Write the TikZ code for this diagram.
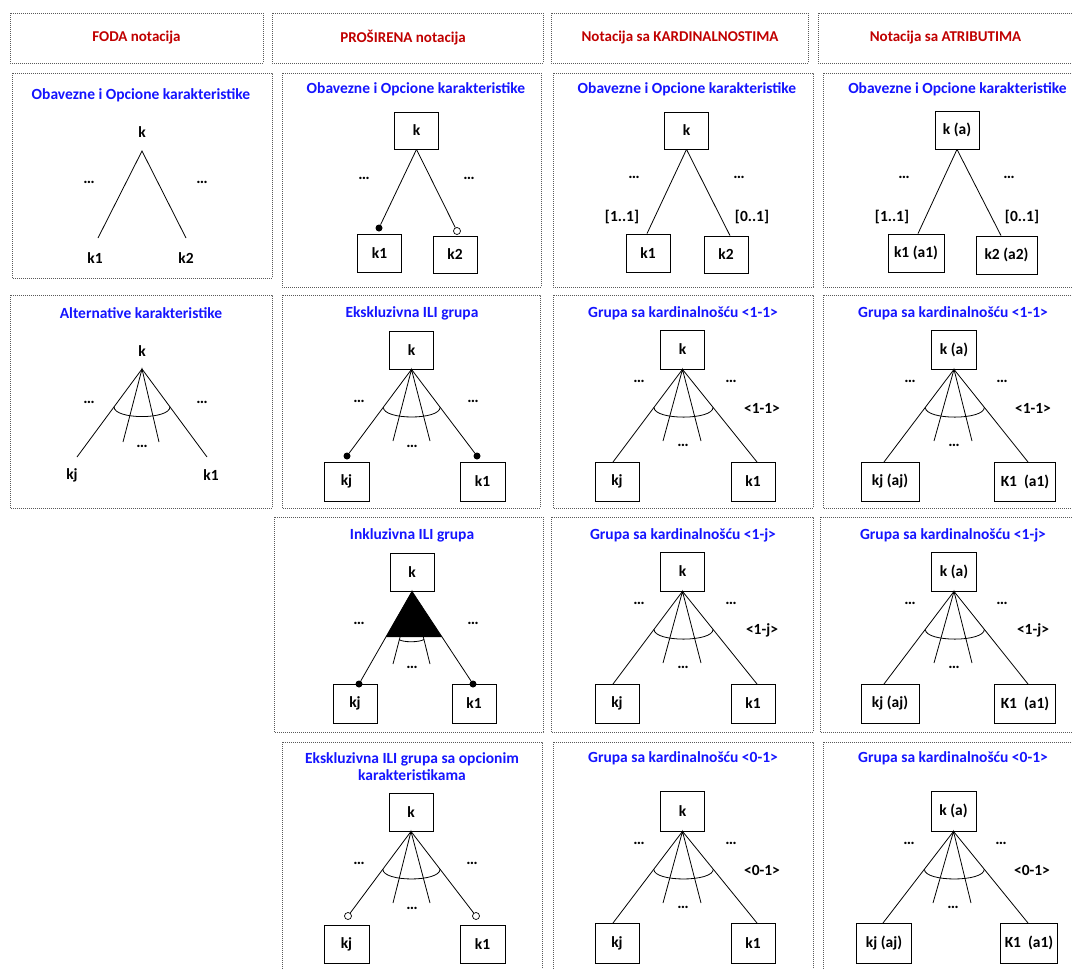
\documentclass[tikz,border=0pt]{standalone}
\usepackage{fontspec}
\setmainfont{Carlito}
\usetikzlibrary{calc}
\definecolor{hdrred}{RGB}{192,0,0}
\definecolor{ttlblue}{RGB}{20,20,255}
\definecolor{dotgray}{RGB}{90,90,90}
\newcommand{\fanlines}[5]{\draw[edge] (#2) -- (#1) -- (#3); \draw[edge] (#4) -- (#1) -- (#5);}
\newcommand{\fanarc}[4]{\draw[edge] ($(#1)!#4!(#2)$) .. controls ($(#1)!#4!(#2)+(0,13)$) and ($(#1)!#4!(#3)+(0,13)$) .. ($(#1)!#4!(#3)$);}
\begin{document}
\begin{tikzpicture}[x=1pt,y=-1pt,
 cell/.style={draw=dotgray, line width=0.6pt, dash pattern=on 0.6pt off 1.4pt},
 hdr/.style={text=hdrred, font=\bfseries\fontsize{15}{18}\selectfont, inner sep=0},
 ttl/.style={text=ttlblue, font=\bfseries\fontsize{15.5}{17}\selectfont, inner sep=0, align=center},
 lbl/.style={font=\bfseries\fontsize{15.5}{17}\selectfont, inner sep=0},
 fbox/.style={draw, line width=0.8pt, minimum height=38pt, minimum width=44pt, inner sep=0, font=\bfseries\fontsize{15.5}{17}\selectfont},
 edge/.style={line width=0.8pt},
 fdot/.style={circle, fill=black, inner sep=0, minimum size=7pt},
 odot/.style={circle, draw=black, line width=0.7pt, fill=white, inner sep=0, minimum size=7pt},
 dts/.style={font=\bfseries\fontsize{16}{17}\selectfont, inner sep=0}
]
\useasboundingbox (0,0) rectangle (1072,969);
% ---------- cells ----------
\draw[cell] (10,13) rectangle (263,63);
\draw[cell] (272,13) rectangle (543,63);
\draw[cell] (551,13) rectangle (808,63);
\draw[cell] (818,13) rectangle (1080,63);
\draw[cell] (12,73) rectangle (272,278);
\draw[cell] (282,73) rectangle (541,287);
\draw[cell] (553,73) rectangle (813,287);
\draw[cell] (823,73) rectangle (1080,287);
\draw[cell] (10,295) rectangle (272,508);
\draw[cell] (282,295) rectangle (540,508);
\draw[cell] (553,295) rectangle (813,508);
\draw[cell] (823,295) rectangle (1080,508);
\draw[cell] (274,517) rectangle (543,732);
\draw[cell] (551,517) rectangle (813,732);
\draw[cell] (820,517) rectangle (1080,732);
\draw[cell] (282,742) rectangle (542,990);
\draw[cell] (553,742) rectangle (813,990);
\draw[cell] (823,742) rectangle (1080,990);
% ---------- headers ----------
\node[hdr] (h1) at (136.5,38) {FODA notacija};
\node[hdr] (h2) at (403,38) {PROŠIRENA notacija};
\node[hdr] (h3) at (680,38) {Notacija sa KARDINALNOSTIMA};
\node[hdr] (h4) at (945.5,38) {Notacija sa ATRIBUTIMA};
% ---------- row 2 col 1 ----------
\node[ttl] (a-t) at (141,95) {Obavezne i Opcione karakteristike};
\node[lbl] (a-k) at (142,132) {k};
\coordinate (a-ap) at (142,151);
\coordinate (a-e1) at (98,238);
\coordinate (a-e2) at (186,238);
\draw[edge] (a-e1) -- (a-ap) -- (a-e2);
\node[dts] (a-d1) at (89,182) {…};
\node[dts] (a-d2) at (202,182) {…};
\node[lbl] (a-k1) at (95,258) {k1};
\node[lbl] (a-k2) at (186,258) {k2};
% ---------- row 2 col 2 ----------
\node[ttl] (b-t) at (416,89) {Obavezne i Opcione karakteristike};
\node[fbox, minimum height=37pt] (b-k) at (416.5,130.5) {k};
\node[fbox] (b-k1) at (379.5,253) {k1};
\node[fbox, minimum height=37pt] (b-k2) at (455,254.5) {k2};
\node[fdot] (b-c1) at (379,228) {};
\node[odot] (b-c2) at (457,231) {};
\draw[edge] (b-k.south) -- (b-c1);
\draw[edge] (b-k.south) -- (b-c2);
\node[dts] (b-d1) at (364,178) {…};
\node[dts] (b-d2) at (469,178) {…};
% ---------- row 2 col 3 ----------
\node[ttl] (c-t) at (687,89) {Obavezne i Opcione karakteristike};
\node[fbox, minimum height=37pt] (c-k) at (686.5,130.5) {k};
\node[fbox] (c-k1) at (648,253) {k1};
\node[fbox, minimum height=37pt] (c-k2) at (726,254.5) {k2};
\draw[edge] (c-k.south) -- ($(c-k1.north)+(-1,0)$);
\draw[edge] (c-k.south) -- ($(c-k2.north)+(4,0)$);
\node[lbl] (c-m1) at (622,217) {[1..1]};
\node[lbl] (c-m2) at (752,217) {[0..1]};
\node[dts] (c-d1) at (634,177) {…};
\node[dts] (c-d2) at (739,177) {…};
% ---------- row 2 col 4 ----------
\node[ttl] (g2-t) at (957.5,89) {Obavezne i Opcione karakteristike};
\node[fbox] (g2-k) at (957,130) {k (a)};
\node[fbox, minimum width=56pt] (g2-k1) at (916,253) {k1 (a1)};
\node[fbox, minimum width=61pt] (g2-k2) at (1006.5,255) {k2 (a2)};
\draw[edge] (g2-k.south) -- ($(g2-k1.north)+(2,0)$);
\draw[edge] (g2-k.south) -- ($(g2-k2.north)+(-5.5,0)$);
\node[lbl] (g2-m1) at (892,217) {[1..1]};
\node[lbl] (g2-m2) at (1022,217) {[0..1]};
\node[dts] (g2-d1) at (904,177) {…};
\node[dts] (g2-d2) at (1009,177) {…};
% ---------- row 3 col 1 ----------
\node[ttl] (d-t) at (141,313) {Alternative karakteristike};
\node[lbl] (d-k) at (142,351) {k};
\coordinate (d-ap) at (142,369);
\coordinate (d-l) at (77,457);
\coordinate (d-r) at (207,457);
\coordinate (d-il) at (123,442);
\coordinate (d-ir) at (159,442);
\fanlines{d-ap}{d-l}{d-r}{d-il}{d-ir}
\fanarc{d-ap}{d-l}{d-r}{0.43}
\node[dts] (d-d1) at (89,402) {…};
\node[dts] (d-d2) at (202,402) {…};
\node[dts] (d-d3) at (142,446) {…};
\node[lbl] (d-kj) at (72,475) {kj};
\node[lbl] (d-k1) at (211,475) {k1};
% ---------- row 3 col 2 ----------
\node[ttl] (e-t) at (412,313) {Ekskluzivna ILI grupa};
\node[fbox] (e-k) at (411.5,350) {k};
\node[fbox, minimum width=45pt, minimum height=39pt] (e-kj) at (346.5,481.5) {kj};
\node[fbox, minimum width=45pt, minimum height=39pt] (e-k1) at (482.5,481.5) {k1};
\node[fdot] (e-cl) at (347,456) {};
\node[fdot] (e-cr) at (477,456) {};
\coordinate (e-il) at (393,441);
\coordinate (e-ir) at (430,441);
\fanlines{e-k.south}{e-cl}{e-cr}{e-il}{e-ir}
\fanarc{e-k.south}{e-cl}{e-cr}{0.437}
\node[dts] (e-d1) at (359,401) {…};
\node[dts] (e-d2) at (473,401) {…};
\node[dts] (e-d3) at (412,446) {…};
% ---------- row 3 col 3 ----------
\node[ttl] (f-t) at (683,313) {Grupa sa kardinalnošću <1-1>};
\node[fbox, minimum height=39pt] (f-k) at (682.5,349.5) {k};
\node[fbox, minimum height=39pt] (f-kj) at (617,481.5) {kj};
\node[fbox, minimum height=39pt] (f-k1) at (753,481.5) {k1};
\coordinate (f-l) at (613,462);
\coordinate (f-r) at (757,462);
\coordinate (f-il) at (663,441);
\coordinate (f-ir) at (701,441);
\fanlines{f-k.south}{f-l}{f-r}{f-il}{f-ir}
\fanarc{f-k.south}{f-l}{f-r}{0.41}
\node[dts] (f-d1) at (639,381) {…};
\node[dts] (f-d2) at (731,381) {…};
\node[dts] (f-d3) at (683,445) {…};
\node[lbl] (f-c) at (762,408) {<1-1>};
% ---------- row 3 col 4 ----------
\node[ttl] (g-t) at (953,313) {Grupa sa kardinalnošću <1-1>};
\node[fbox, minimum width=45pt, minimum height=39pt] (g-k) at (954,349.5) {k (a)};
\node[fbox, minimum width=58pt, minimum height=39pt] (g-kj) at (890,481.5) {kj (aj)};
\node[fbox, minimum width=61pt, minimum height=39pt] (g-k1) at (1025,481.5) {K1\ \ (a1)};
\coordinate (g-l) at (884,462);
\coordinate (g-r) at (1028,462);
\coordinate (g-il) at (934,441);
\coordinate (g-ir) at (972,441);
\fanlines{g-k.south}{g-l}{g-r}{g-il}{g-ir}
\fanarc{g-k.south}{g-l}{g-r}{0.41}
\node[dts] (g-d1) at (910,381) {…};
\node[dts] (g-d2) at (1002,381) {…};
\node[dts] (g-d3) at (954,445) {…};
\node[lbl] (g-c) at (1033,408) {<1-1>};
% ---------- row 4 col 2 ----------
\node[ttl] (h-t) at (412,535) {Inkluzivna ILI grupa};
\node[fbox] (h-k) at (412,572) {k};
\node[fbox, minimum height=39pt] (h-kj) at (355,703.5) {kj};
\node[fbox, minimum height=39pt] (h-k1) at (474,703.5) {k1};
\node[fdot] (h-cl) at (359,684) {};
\node[fdot] (h-cr) at (473,684) {};
\coordinate (h-il) at (393,664);
\coordinate (h-ir) at (430,664);
\fanlines{h-k.south}{h-cl}{h-cr}{h-il}{h-ir}
\fill ($(h-k.south)$) -- ($(h-k.south)!0.495!(h-cl)$) -- ($(h-k.south)!0.495!(h-cr)$) -- cycle;
\draw[edge] (399,639.5) .. controls (403,642.5) and (419,642.5) .. (424,639.5);
\node[dts] (h-d1) at (359,623) {…};
\node[dts] (h-d2) at (473,623) {…};
\node[dts] (h-d3) at (412,667) {…};
% ---------- row 4 col 3 ----------
\node[ttl] (i-t) at (683,535) {Grupa sa kardinalnošću <1-j>};
\node[fbox, minimum height=39pt] (i-k) at (682.5,571.5) {k};
\node[fbox, minimum height=39pt] (i-kj) at (617,703.5) {kj};
\node[fbox, minimum height=39pt] (i-k1) at (753,703.5) {k1};
\coordinate (i-l) at (613,684);
\coordinate (i-r) at (757,684);
\coordinate (i-il) at (663,663);
\coordinate (i-ir) at (701,663);
\fanlines{i-k.south}{i-l}{i-r}{i-il}{i-ir}
\fanarc{i-k.south}{i-l}{i-r}{0.41}
\node[dts] (i-d1) at (639,603) {…};
\node[dts] (i-d2) at (731,603) {…};
\node[dts] (i-d3) at (683,667) {…};
\node[lbl] (i-c) at (762,630) {<1-j>};
% ---------- row 4 col 4 ----------
\node[ttl] (j-t) at (953,535) {Grupa sa kardinalnošću <1-j>};
\node[fbox, minimum width=45pt, minimum height=39pt] (j-k) at (954,571.5) {k (a)};
\node[fbox, minimum width=58pt, minimum height=39pt] (j-kj) at (890,703.5) {kj (aj)};
\node[fbox, minimum width=61pt, minimum height=39pt] (j-k1) at (1025,703.5) {K1\ \ (a1)};
\coordinate (j-l) at (884,684);
\coordinate (j-r) at (1028,684);
\coordinate (j-il) at (934,663);
\coordinate (j-ir) at (972,663);
\fanlines{j-k.south}{j-l}{j-r}{j-il}{j-ir}
\fanarc{j-k.south}{j-l}{j-r}{0.41}
\node[dts] (j-d1) at (910,603) {…};
\node[dts] (j-d2) at (1002,603) {…};
\node[dts] (j-d3) at (954,667) {…};
\node[lbl] (j-c) at (1033,630) {<1-j>};
% ---------- row 5 col 2 ----------
\node[ttl] (m-t) at (412,766.5) {Ekskluzivna ILI grupa sa opcionim\\karakteristikama};
\node[fbox] (m-k) at (411,812) {k};
\node[fbox, minimum width=45pt] (m-kj) at (346.5,944) {kj};
\node[fbox, minimum width=45pt] (m-k1) at (482.5,944) {k1};
\node[odot] (m-cl) at (348,916) {};
\node[odot] (m-cr) at (476,916) {};
\coordinate (m-il) at (393,903);
\coordinate (m-ir) at (430,903);
\fanlines{m-k.south}{m-cl}{m-cr}{m-il}{m-ir}
\fanarc{m-k.south}{m-cl}{m-cr}{0.447}
\node[dts] (m-d1) at (359,863) {…};
\node[dts] (m-d2) at (472,863) {…};
\node[dts] (m-d3) at (412,908) {…};
% ---------- row 5 col 3 ----------
\node[ttl] (n-t) at (683,758) {Grupa sa kardinalnošću <0-1>};
\node[fbox, minimum height=40pt] (n-k) at (682.5,811) {k};
\node[fbox, minimum height=40pt] (n-kj) at (617,943) {kj};
\node[fbox, minimum height=40pt] (n-k1) at (753,943) {k1};
\coordinate (n-l) at (613,923);
\coordinate (n-r) at (757,923);
\coordinate (n-il) at (663,903);
\coordinate (n-ir) at (701,903);
\fanlines{n-k.south}{n-l}{n-r}{n-il}{n-ir}
\fanarc{n-k.south}{n-l}{n-r}{0.413}
\node[dts] (n-d1) at (639,843) {…};
\node[dts] (n-d2) at (731,843) {…};
\node[dts] (n-d3) at (683,907) {…};
\node[lbl] (n-c) at (762,870) {<0-1>};
% ---------- row 5 col 4 ----------
\node[ttl] (o-t) at (953,758) {Grupa sa kardinalnošću <0-1>};
\node[fbox, minimum width=45pt, minimum height=40pt] (o-k) at (953.5,811) {k (a)};
\node[fbox, minimum width=55pt, minimum height=40pt] (o-kj) at (884,943) {kj (aj)};
\node[fbox, minimum width=57pt, minimum height=40pt] (o-k1) at (1029,943) {K1\ \ (a1)};
\coordinate (o-l) at (883,923);
\coordinate (o-r) at (1028,923);
\coordinate (o-il) at (933,903);
\coordinate (o-ir) at (971,903);
\fanlines{o-k.south}{o-l}{o-r}{o-il}{o-ir}
\fanarc{o-k.south}{o-l}{o-r}{0.413}
\node[dts] (o-d1) at (909,843) {…};
\node[dts] (o-d2) at (1001,843) {…};
\node[dts] (o-d3) at (953,907) {…};
\node[lbl] (o-c) at (1032,870) {<0-1>};
\end{tikzpicture}
\end{document}
